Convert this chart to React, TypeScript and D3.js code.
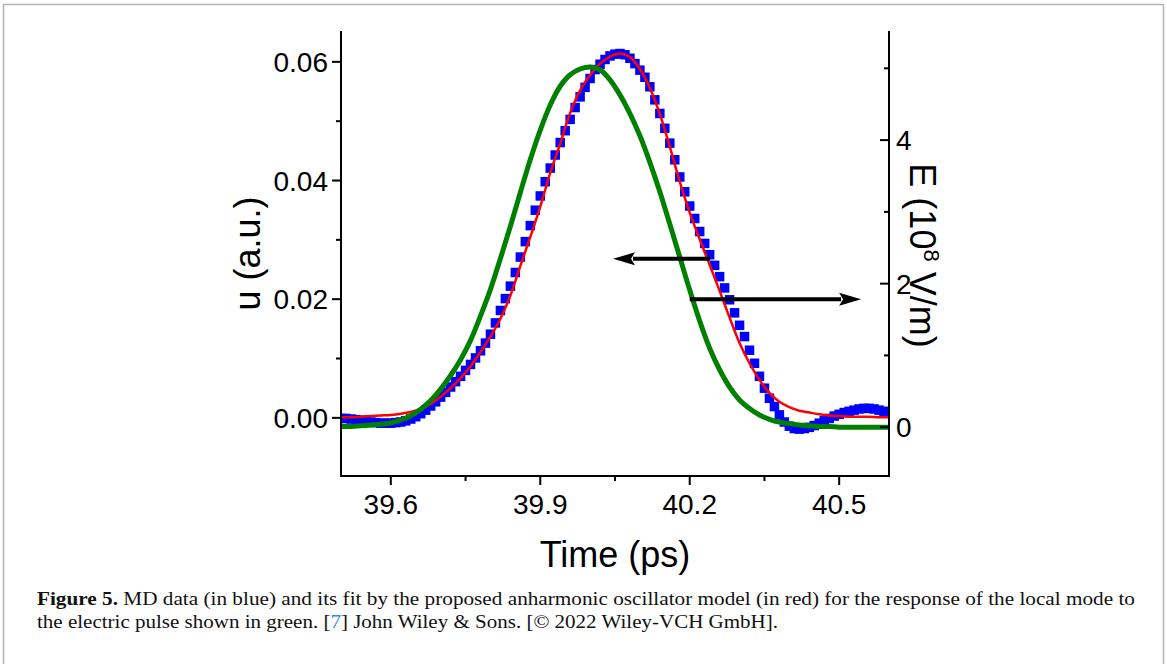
import React from 'react';
import * as d3 from 'd3';

const W = 1167;
const H = 664;

// ---- axes / ticks ----
const xMajorTicks = [39.6, 39.9, 40.2, 40.5];
const xMinorTicks = [39.75, 40.05, 40.35];
const uMajorTicks = [0, 0.02, 0.04, 0.06];
const uMinorTicks = [0.01, 0.03, 0.05];
const eMajorTicks = [0, 2, 4];
const eMinorTicks = [1, 3, 5];

// ---- MD data (blue squares), u in a.u. ----
const mdTime = [
  39.5, 39.51, 39.52, 39.53, 39.54, 39.55, 39.56, 39.57, 39.58, 39.59,
  39.6, 39.61, 39.62, 39.63, 39.64, 39.65, 39.66, 39.67, 39.68, 39.69,
  39.7, 39.71, 39.72, 39.73, 39.74, 39.75, 39.76, 39.77, 39.78, 39.79,
  39.8, 39.81, 39.82, 39.83, 39.84, 39.85, 39.86, 39.87, 39.88, 39.89,
  39.9, 39.91, 39.92, 39.93, 39.94, 39.95, 39.96, 39.97, 39.98, 39.99,
  40.0, 40.01, 40.02, 40.03, 40.04, 40.05, 40.06, 40.07, 40.08, 40.09,
  40.1, 40.11, 40.12, 40.13, 40.14, 40.15, 40.16, 40.17, 40.18, 40.19,
  40.2, 40.21, 40.22, 40.23, 40.24, 40.25, 40.26, 40.27, 40.28, 40.29,
  40.3, 40.31, 40.32, 40.33, 40.34, 40.35, 40.36, 40.37, 40.38, 40.39,
  40.4, 40.41, 40.42, 40.43, 40.44, 40.45, 40.46, 40.47, 40.48, 40.49,
  40.5, 40.51, 40.52, 40.53, 40.54, 40.55, 40.56, 40.57, 40.58, 40.59,
  40.6,
];
const mdU = [
  -0.0001, -0.0001, -0.0002, -0.0003, -0.0004, -0.0005, -0.0007, -0.0008, -0.0009, -0.0009,
  -0.0009, -0.0008, -0.0007, -0.0005, -0.0002, 0.0002, 0.0007, 0.0013, 0.002, 0.0027,
  0.0035, 0.0043, 0.0052, 0.0061, 0.007, 0.008, 0.009, 0.0101, 0.0113, 0.0126,
  0.0141, 0.016, 0.0181, 0.0201, 0.0222, 0.0245, 0.0271, 0.0297, 0.0324, 0.035,
  0.0374, 0.0398, 0.0421, 0.0443, 0.0464, 0.0484, 0.0503, 0.0523, 0.0541, 0.0557,
  0.0572, 0.0587, 0.0596, 0.0604, 0.061, 0.0613, 0.0614, 0.0612, 0.0606, 0.0597,
  0.0586, 0.0574, 0.0558, 0.0536, 0.0513, 0.0488, 0.0463, 0.0435, 0.0406, 0.0381,
  0.0357, 0.0336, 0.0314, 0.0294, 0.0275, 0.0257, 0.0238, 0.0219, 0.0199, 0.0177,
  0.0156, 0.0137, 0.0114, 0.0092, 0.007, 0.005, 0.0033, 0.0019, 0.0005, -0.0007,
  -0.0014, -0.0018, -0.0019, -0.0018, -0.0016, -0.0013, -0.0009, -0.0005, -0.0001, 0.0003,
  0.0006, 0.0009, 0.0011, 0.0013, 0.0015, 0.0016, 0.0016, 0.0015, 0.0013, 0.0011,
  0.0009,
];

// ---- fit (red) and pulse (green) sampled times ----
const curveTime = [
  39.5, 39.52, 39.54, 39.56, 39.58, 39.6, 39.62, 39.64, 39.66, 39.68,
  39.7, 39.72, 39.74, 39.76, 39.78, 39.8, 39.82, 39.84, 39.86, 39.88,
  39.9, 39.92, 39.94, 39.96, 39.98, 40.0, 40.02, 40.04, 40.06, 40.08,
  40.1, 40.12, 40.14, 40.16, 40.18, 40.2, 40.22, 40.24, 40.26, 40.28,
  40.3, 40.32, 40.34, 40.36, 40.38, 40.4, 40.42, 40.44, 40.46, 40.48,
  40.5, 40.52, 40.54, 40.56, 40.58, 40.6,
];
const fitU = [
  0.0001, 0.0001, 0.0002, 0.0003, 0.0004, 0.0005, 0.0007, 0.001, 0.0015, 0.0023,
  0.0036, 0.005, 0.0067, 0.0087, 0.0111, 0.0137, 0.0167, 0.0206, 0.0256, 0.0305,
  0.0356, 0.0413, 0.0462, 0.0514, 0.0552, 0.0578, 0.0597, 0.0609, 0.0614, 0.0608,
  0.0588, 0.0556, 0.0512, 0.0457, 0.0398, 0.0346, 0.0301, 0.0258, 0.0214, 0.0169,
  0.0126, 0.0092, 0.0064, 0.0042, 0.0027, 0.0018, 0.0012, 0.0009, 0.0006, 0.0004,
  0.0003, 0.0002, 0.0002, 0.0002, 0.0001, 0.0001,
];
const pulseE = [
  0.01, 0.01, 0.02, 0.03, 0.04, 0.06, 0.1, 0.16, 0.25, 0.37,
  0.53, 0.72, 0.94, 1.21, 1.55, 1.92, 2.35, 2.8, 3.27, 3.73,
  4.14, 4.49, 4.75, 4.91, 4.99, 5.02, 4.98, 4.84, 4.63, 4.37,
  4.06, 3.69, 3.28, 2.83, 2.37, 1.91, 1.48, 1.1, 0.8, 0.56,
  0.38, 0.26, 0.17, 0.11, 0.07, 0.05, 0.03, 0.02, 0.01, 0.01,
  0.0, 0.0, 0.0, 0.0, 0.0, 0.0,
];

// ---- annotation arrows (data coords on left axis) ----
const arrowLeftT = [40.241, 40.046];
const arrowLeftU = 0.0268;
const arrowRightT = [40.2, 40.544];
const arrowRightU = 0.02;

const captionLine1 =
  ' MD data (in blue) and its fit by the proposed anharmonic oscillator model (in red) for the response of the local mode to';

export default function App() {
  const left = 341;
  const right = 889;
  const top = 31;
  const bottom = 476;

  const x = d3.scaleLinear().domain([39.5, 40.6]).range([left, right]);
  const yU = d3.scaleLinear().domain([-0.0098, 0.0652]).range([bottom, top]);
  const yE = d3.scaleLinear().domain([-0.68, 5.52]).range([bottom, top]);

  const fitLine = d3
    .line<number>()
    .x((_, i) => x(curveTime[i]))
    .y((d) => yU(d))
    .curve(d3.curveCatmullRom.alpha(0.5));
  const pulseLine = d3
    .line<number>()
    .x((_, i) => x(curveTime[i]))
    .y((d) => yE(d))
    .curve(d3.curveCatmullRom.alpha(0.5));

  const sq = 9.5;
  const fontSans = "'Liberation Sans', Arial, sans-serif";
  const fontSerif = "'Liberation Serif', 'Times New Roman', serif";

  const arrow = (t0: number, t1: number, u: number) => {
    const x0 = x(t0);
    const x1 = x(t1);
    const yy = yU(u);
    const dir = x1 > x0 ? 1 : -1;
    const hl = 22;
    const hw = 6.5;
    const baseX = x1 - dir * hl;
    return (
      <g>
        <line x1={x0} y1={yy} x2={baseX + dir * 2} y2={yy} stroke="#000" strokeWidth={4} />
        <polygon
          points={`${x1},${yy} ${baseX},${yy - hw} ${baseX + dir * 4},${yy} ${baseX},${yy + hw}`}
          fill="#000"
        />
      </g>
    );
  };

  return (
    <svg
      width={W}
      height={H}
      viewBox={`0 0 ${W} ${H}`}
      style={{ position: 'absolute', left: 0, top: 0, background: '#fff' }}
    >
      <rect x={0} y={0} width={W} height={H} fill="#fff" />
      <rect x={3.5} y={4.5} width={1160} height={700} fill="none" stroke="#b4b4b4" strokeWidth={1.5} />

      <defs>
        <clipPath id="plotClip">
          <rect x={left} y={top} width={right - left} height={bottom - top} />
        </clipPath>
      </defs>

      <g clipPath="url(#plotClip)">
        {mdU.map((u, i) => (
          <rect
            key={i}
            x={x(mdTime[i]) - sq / 2}
            y={yU(u) - sq / 2}
            width={sq}
            height={sq}
            fill="#0000ff"
          />
        ))}
        <path d={fitLine(fitU) || ''} fill="none" stroke="#ff0000" strokeWidth={2.5} />
        <path d={pulseLine(pulseE) || ''} fill="none" stroke="#008000" strokeWidth={5} />
      </g>

      {arrow(arrowLeftT[0], arrowLeftT[1], arrowLeftU)}
      {arrow(arrowRightT[0], arrowRightT[1], arrowRightU)}

      {/* axis lines */}
      <g stroke="#000" strokeWidth={2} fill="none">
        <line x1={left} y1={top} x2={left} y2={bottom + 1} />
        <line x1={right} y1={top} x2={right} y2={bottom + 1} />
        <line x1={left - 1} y1={bottom} x2={right + 1} y2={bottom} />
      </g>

      {/* ticks */}
      <g stroke="#000" strokeWidth={2}>
        {xMajorTicks.map((t) => (
          <line key={'xM' + t} x1={x(t)} x2={x(t)} y1={bottom} y2={bottom + 9} />
        ))}
        {xMinorTicks.map((t) => (
          <line key={'xm' + t} x1={x(t)} x2={x(t)} y1={bottom} y2={bottom + 5} />
        ))}
        {uMajorTicks.map((t) => (
          <line key={'uM' + t} x1={left - 9} x2={left} y1={yU(t)} y2={yU(t)} />
        ))}
        {uMinorTicks.map((t) => (
          <line key={'um' + t} x1={left - 5} x2={left} y1={yU(t)} y2={yU(t)} />
        ))}
        {eMajorTicks.map((t) => (
          <line key={'eM' + t} x1={right - 9} x2={right} y1={yE(t)} y2={yE(t)} />
        ))}
        {eMinorTicks.map((t) => (
          <line key={'em' + t} x1={right - 5} x2={right} y1={yE(t)} y2={yE(t)} />
        ))}
      </g>

      <g fontFamily={fontSans} fontSize={28} fill="#000">
        {xMajorTicks.map((t) => (
          <text key={'xl' + t} x={x(t)} y={514} textAnchor="middle">
            {t.toFixed(1)}
          </text>
        ))}
        {uMajorTicks.map((t) => (
          <text key={'ul' + t} x={328} y={yU(t) + 10} textAnchor="end">
            {t.toFixed(2)}
          </text>
        ))}
        {eMajorTicks.map((t) => (
          <text key={'el' + t} x={896} y={yE(t) + 10} textAnchor="start">
            {String(t)}
          </text>
        ))}
      </g>

      <g fontFamily={fontSans} fontSize={36} fill="#000">
        <text x={(left + right) / 2} y={567} textAnchor="middle">
          Time (ps)
        </text>
        <text transform={`translate(260, ${(top + bottom) / 2}) rotate(-90)`} textAnchor="middle">
          u (a.u.)
        </text>
        <text transform={`translate(910, ${(top + bottom) / 2 + 2}) rotate(90)`} textAnchor="middle">
          E (10
          <tspan fontSize={22} dy={-14}>
            8
          </tspan>
          <tspan dy={14}>{' V/m)'}</tspan>
        </text>
      </g>

      <g fontFamily={fontSerif} fontSize={19} fill="#111">
        <text x={37} y={605} textLength={1098} lengthAdjust="spacingAndGlyphs">
          <tspan fontWeight="bold">Figure 5.</tspan>
          {captionLine1}
        </text>
        <text x={37} y={628} textLength={741} lengthAdjust="spacingAndGlyphs">
          {'the electric pulse shown in green. ['}
          <tspan fill="#2b8fd0">7</tspan>
          {'] John Wiley & Sons. [© 2022 Wiley-VCH GmbH].'}
        </text>
      </g>
    </svg>
  );
}
